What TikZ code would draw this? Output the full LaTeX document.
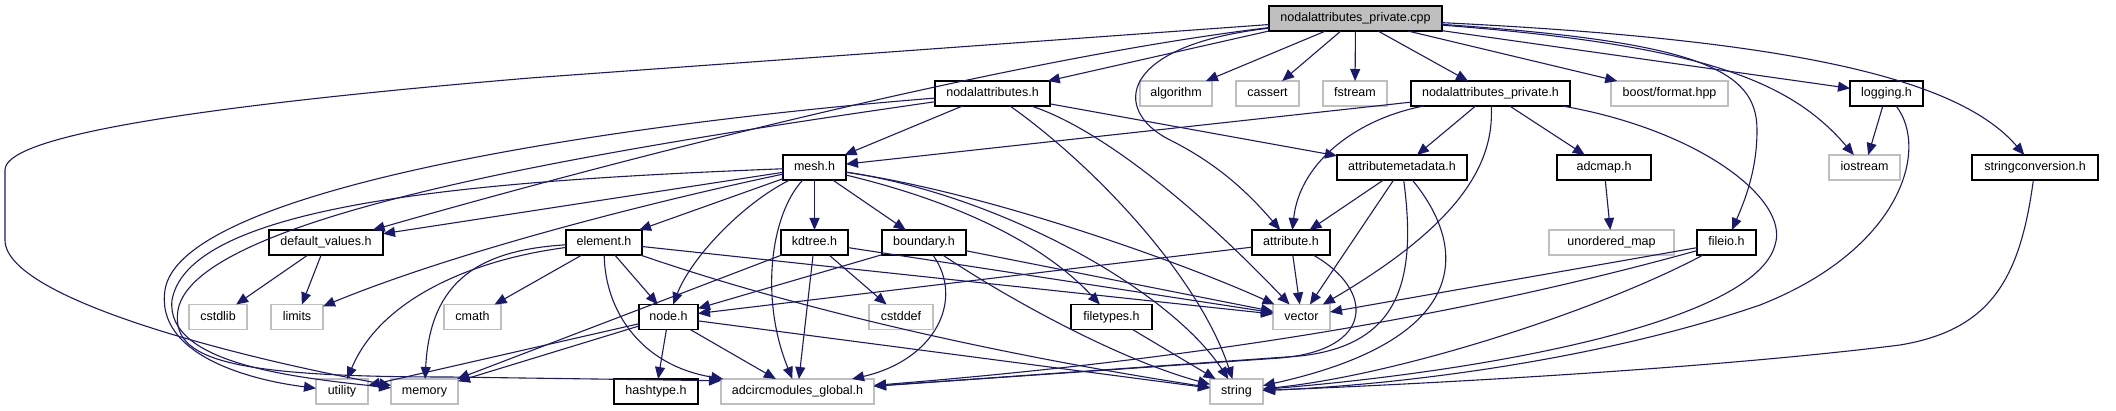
\documentclass[tikz,border=0pt]{standalone}
\usepackage{fontspec}
\setmainfont{Liberation Sans}
\usetikzlibrary{positioning,arrows.meta}
\definecolor{edgeblue}{RGB}{25,25,112}
\definecolor{boxgray}{RGB}{191,191,191}

\begin{document}
\begin{tikzpicture}[x=1pt,y=-1pt,
  hdr/.style={draw=black,line width=1.4pt,minimum height=25pt,inner sep=0pt,outer sep=0pt,
    text height=9pt,text depth=2.6pt,font=\fontsize{12.5pt}{15pt}\selectfont},
  sys/.style={hdr,draw=boxgray},
  inc/.style={draw=edgeblue,line width=1.1pt,-{Triangle[length=12pt,width=10pt]}}]
  \useasboundingbox (0,0) rectangle (2116,411);
  \node[hdr,fill=boxgray,minimum width=173pt] (root) at (1355.5,18.5) {nodalattributes\_private.cpp};

  \node[hdr,minimum width=115pt] (nodalattr) at (992.5,93.5) {nodalattributes.h};
  \node[sys,minimum width=72pt,right=90pt of nodalattr] (algorithm) {algorithm};
  \node[sys,minimum width=63pt,right=24pt of algorithm] (cassert) {cassert};
  \node[sys,minimum width=64pt,right=24pt of cassert] (fstream) {fstream};
  \node[hdr,minimum width=159pt,right=24pt of fstream] (nodalpriv) {nodalattributes\_private.h};
  \node[sys,minimum width=117pt,right=41pt of nodalpriv] (boostfmt) {boost/format.hpp};
  \node[hdr,minimum width=73pt,right=122pt of boostfmt] (logging) {logging.h};

  \node[hdr,minimum width=63pt] (mesh) at (814.5,167.5) {mesh.h};
  \node[hdr,minimum width=130pt,right=491pt of mesh] (attrmeta) {attributemetadata.h};
  \node[hdr,minimum width=94pt,right=90pt of attrmeta] (adcmap) {adcmap.h};
  \node[sys,minimum width=71pt,right=178pt of adcmap] (iostream) {iostream};
  \node[hdr,minimum width=126pt,right=72pt of iostream] (strconv) {stringconversion.h};

  \node[hdr,minimum width=114pt] (defaults) at (326,242.5) {default\_values.h};
  \node[hdr,minimum width=76pt,right=183pt of defaults] (element) {element.h};
  \node[hdr,minimum width=67pt,right=139pt of element] (kdtree) {kdtree.h};
  \node[hdr,minimum width=84pt,right=34pt of kdtree] (boundary) {boundary.h};
  \node[hdr,minimum width=78pt,right=286pt of boundary] (attribute) {attribute.h};
  \node[sys,minimum width=125pt,right=219pt of attribute] (umap) {unordered\_map};
  \node[hdr,minimum width=59pt,right=23pt of umap] (fileio) {fileio.h};

  \node[sys,minimum width=58pt] (cstdlib) at (218,317) {cstdlib};
  \node[sys,minimum width=52pt,right=24pt of cstdlib] (limits) {limits};
  \node[sys,minimum width=57pt,right=121pt of limits] (cmath) {cmath};
  \node[hdr,minimum width=59pt,right=138pt of cmath] (nodeh) {node.h};
  \node[sys,minimum width=64pt,right=171pt of nodeh] (cstddef) {cstddef};
  \node[hdr,minimum width=81pt,right=138pt of cstddef] (filetypes) {filetypes.h};
  \node[sys,minimum width=57pt,right=121pt of filetypes] (vector) {vector};

  \node[sys,minimum width=52pt] (utility) at (342,391.5) {utility};
  \node[sys,minimum width=67pt,right=23pt of utility] (memory) {memory};
  \node[hdr,minimum width=84pt,right=156pt of memory] (hashtype) {hashtype.h};
  \node[sys,minimum width=153pt,right=23pt of hashtype] (global) {adcircmodules\_global.h};
  \node[sys,minimum width=53pt,right=336pt of global] (string) {string};

  \draw[inc] (root.184) -- (530,78) .. controls (150,110) and (5,140) .. (5,170) -- (5,240) .. controls (5,300) and (250,360) .. (memory);
  \draw[inc] (root.186) .. controls (1000,60) and (600,165) .. (defaults.15);
  \draw[inc] (root.south west) -- (nodalattr);
  \draw[inc] (root) -- (algorithm);
  \draw[inc] (root) -- (cassert);
  \draw[inc] (root) -- (fstream);
  \draw[inc] (root) -- (nodalpriv);
  \draw[inc] (root) -- (boostfmt);
  \draw[inc] (root) -- (logging);
  \draw[inc] (root) .. controls (1120,45) and (1110,110) .. (1170,140) .. controls (1220,165) and (1250,195) .. (attribute);
  \draw[inc] (root) .. controls (1700,45) and (1790,80) .. (iostream);
  \draw[inc] (root) .. controls (1700,42) and (1757,70) .. (1757,130) .. controls (1757,170) and (1745,200) .. (fileio);
  \draw[inc] (root) .. controls (1800,40) and (1960,80) .. (strconv);

  \draw[inc] (nodalattr) .. controls (600,125) and (180,190) .. (165,290) .. controls (155,355) and (250,380) .. (utility);
  \draw[inc] (nodalattr) .. controls (600,150) and (195,215) .. (178,310) .. controls (170,360) and (230,377) .. (450,377) -- (global.172);
  \draw[inc] (nodalattr) -- (mesh);
  \draw[inc] (nodalattr) -- (attrmeta);
  \draw[inc] (nodalattr) .. controls (1090,125) and (1180,190) .. (vector);
  \draw[inc] (nodalattr) .. controls (1100,170) and (1200,280) .. (string);

  \draw[inc] (nodalpriv) -- (mesh);
  \draw[inc] (nodalpriv) .. controls (1360,118) and (1300,160) .. (attribute);
  \draw[inc] (nodalpriv) -- (attrmeta);
  \draw[inc] (nodalpriv) .. controls (1495,170) and (1450,230) .. (vector);
  \draw[inc] (nodalpriv) -- (adcmap);
  \draw[inc] (nodalpriv) .. controls (1700,130) and (1790,200) .. (1775,245) .. controls (1755,320) and (1500,370) .. (string);

  \draw[inc] (mesh) -- (defaults);
  \draw[inc] (mesh) .. controls (660,200) and (460,250) .. (limits);
  \draw[inc] (mesh) .. controls (500,180) and (190,200) .. (172,300) .. controls (165,365) and (300,378) .. (memory);
  \draw[inc] (mesh) -- (element);
  \draw[inc] (mesh) .. controls (740,205) and (690,260) .. (nodeh);
  \draw[inc] (mesh) .. controls (770,215) and (760,300) .. (global);
  \draw[inc] (mesh) -- (kdtree);
  \draw[inc] (mesh) -- (boundary);
  \draw[inc] (mesh) .. controls (950,200) and (1040,240) .. (filetypes);
  \draw[inc] (mesh) .. controls (1000,195) and (1200,270) .. (vector);
  \draw[inc] (mesh) .. controls (1000,195) and (1170,290) .. (string);

  \draw[inc] (element) -- (nodeh);
  \draw[inc] (element) .. controls (605,310) and (640,365) .. (global);
  \draw[inc] (element) -- (vector);
  \draw[inc] (element) .. controls (800,310) and (1000,355) .. (string);
  \draw[inc] (element) -- (cmath);
  \draw[inc] (element) .. controls (480,250) and (430,280) .. (memory);
  \draw[inc] (element) .. controls (470,260) and (380,300) .. (utility);

  \draw[inc] (kdtree) -- (memory);
  \draw[inc] (kdtree) -- (cstddef);
  \draw[inc] (kdtree) -- (global);
  \draw[inc] (kdtree) -- (vector);

  \draw[inc] (boundary) -- (nodeh);
  \draw[inc] (boundary) .. controls (965,300) and (935,360) .. (global);
  \draw[inc] (boundary) -- (vector);
  \draw[inc] (boundary) .. controls (1010,300) and (1120,360) .. (string);

  \draw[inc] (nodeh) -- (hashtype);
  \draw[inc] (nodeh) -- (global);
  \draw[inc] (nodeh) -- (string);
  \draw[inc] (nodeh) -- (utility);
  \draw[inc] (nodeh) -- (memory);

  \draw[inc] (filetypes) -- (string);
  \draw[inc] (attribute) -- (vector);
  \draw[inc] (attribute) -- (nodeh);
  \draw[inc] (attribute) .. controls (1375,290) and (1375,350) .. (1280,358) -- (global);
  \draw[inc] (attrmeta) -- (attribute);
  \draw[inc] (attrmeta) -- (vector);
  \draw[inc] (attrmeta) .. controls (1417,280) and (1400,345) .. (1300,356) -- (global);
  \draw[inc] (attrmeta) .. controls (1470,250) and (1470,340) .. (string);
  \draw[inc] (adcmap) -- (umap);
  \draw[inc] (fileio) -- (vector);
  \draw[inc] (fileio) .. controls (1500,305) and (1250,355) .. (global);
  \draw[inc] (fileio) .. controls (1600,310) and (1400,375) .. (string);
  \draw[inc] (logging) -- (iostream);
  \draw[inc] (logging) .. controls (1930,150) and (1900,250) .. (1760,305) .. controls (1600,360) and (1400,385) .. (string);
  \draw[inc] (strconv) .. controls (2020,280) and (1990,330) .. (1900,345) .. controls (1700,370) and (1400,385) .. (string);
  \draw[inc] (defaults) -- (cstdlib);
  \draw[inc] (defaults) -- (limits);
\end{tikzpicture}
\end{document}
